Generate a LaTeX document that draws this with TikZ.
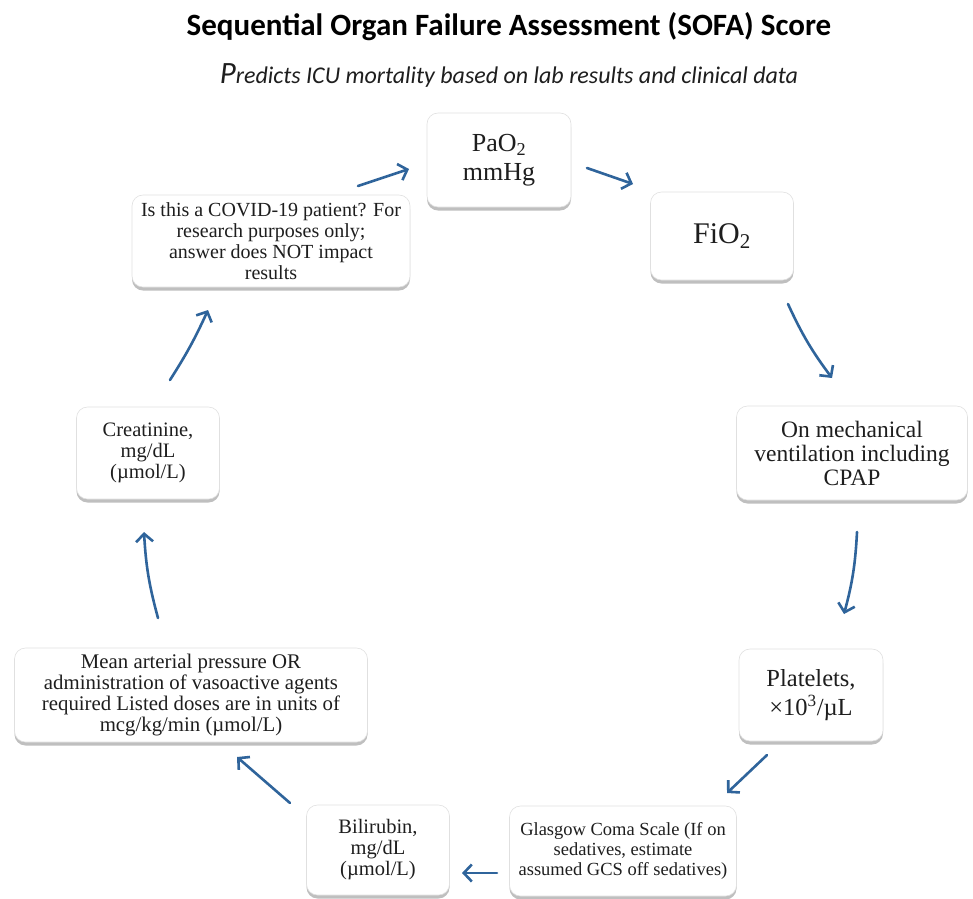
\documentclass[tikz,border=0pt]{standalone}
\usepackage{fontspec}
\setmainfont{Liberation Serif}
\newfontfamily\carlito{Carlito}
\usetikzlibrary{arrows.meta,shadows}
\definecolor{arrowblue}{RGB}{47,100,155}
\definecolor{txt}{RGB}{30,30,30}
\begin{document}
\begin{tikzpicture}[x=1pt,y=-1pt,
  box/.style={rounded corners=11pt, draw=black!12, line width=0.6pt, fill=white, align=center, text=txt,
    inner sep=2pt,
    drop shadow={shadow xshift=0pt, shadow yshift=-3.5pt, fill=black, opacity=0.25}},
  conn/.style={draw=arrowblue, line width=2.6pt, line cap=round,
    -{Straight Barb[length=8pt,width=17pt,line width=2.6pt]}},
]
\useasboundingbox (0,0) rectangle (973,898);
\fill[white] (0,0) rectangle (973,898);

\node[font=\carlito\bfseries\fontsize{31}{34}\selectfont, text=black] (title) at (509,27)
  {Sequential Organ Failure Assessment (SOFA) Score};
\node[font=\carlito\itshape\fontsize{24}{28}\selectfont, text=txt] (sub) at (509,75)
  {{\fontsize{31}{28}\selectfont P}redicts ICU mortality based on lab results and clinical data};

\node[box, font=\fontsize{20}{21}\selectfont, minimum width=278pt, minimum height=92pt] (cov) at (271,241)
  {Is this a COVID-19 patient? For\\research purposes only;\\answer does NOT impact\\results};
\node[box, font=\fontsize{26}{29}\selectfont, minimum width=144pt, minimum height=94pt] (pao) at (499,160)
  {PaO\textsubscript{2}\\mmHg};
\node[box, font=\fontsize{30}{30}\selectfont, minimum width=143pt, minimum height=88pt] (fio) at (722,236)
  {FiO\textsubscript{2}};
\node[box, font=\fontsize{23.5}{24}\selectfont, minimum width=231pt, minimum height=94pt] (mech) at (852,453)
  {On mechanical\\ventilation including\\CPAP};
\node[box, font=\fontsize{24.5}{29}\selectfont, minimum width=144pt, minimum height=92pt] (plat) at (811,695)
  {Platelets,\\×10\textsuperscript{3}/µL};
\node[box, font=\fontsize{18.5}{20}\selectfont, minimum width=227pt, minimum height=90pt] (gcs) at (623,851)
  {Glasgow Coma Scale (If on\\sedatives, estimate\\assumed GCS off sedatives)};
\node[box, font=\fontsize{20.5}{21}\selectfont, minimum width=143pt, minimum height=90pt] (bili) at (378,850)
  {Bilirubin,\\mg/dL\\(µmol/L)};
\node[box, font=\fontsize{20.8}{21}\selectfont, minimum width=353pt, minimum height=94pt] (map) at (191,695)
  {Mean arterial pressure OR\\administration of vasoactive agents\\required Listed doses are in units of\\mcg/kg/min (µmol/L)};
\node[box, font=\fontsize{20.5}{21}\selectfont, minimum width=143pt, minimum height=92pt] (crea) at (148,453)
  {Creatinine,\\mg/dL\\(µmol/L)};

\coordinate (c1s) at (358,186); \coordinate (c1e) at (409,169);
\coordinate (c2s) at (587,168); \coordinate (c2e) at (633,184);
\coordinate (c3s) at (788,304); \coordinate (c3e) at (832,378);
\coordinate (c4s) at (857,532); \coordinate (c4e) at (844,614);
\coordinate (c5s) at (767,755); \coordinate (c5e) at (727,793);
\coordinate (c6s) at (497,873); \coordinate (c6e) at (462,873);
\coordinate (c7s) at (290,803); \coordinate (c7e) at (237,757);
\coordinate (c8s) at (158,618); \coordinate (c8e) at (144,532);
\coordinate (c9s) at (170,380); \coordinate (c9e) at (208,310);

\draw[conn] (c1s) -- (c1e);
\draw[conn] (c2s) -- (c2e);
\draw[conn] (c3s) to[bend right=6] (c3e);
\draw[conn] (c4s) to[bend left=6] (c4e);
\draw[conn] (c5s) -- (c5e);
\draw[conn] (c6s) -- (c6e);
\draw[conn] (c7s) -- (c7e);
\draw[conn] (c8s) to[bend left=6] (c8e);
\draw[conn] (c9s) to[bend right=4] (c9e);
\end{tikzpicture}
\end{document}
